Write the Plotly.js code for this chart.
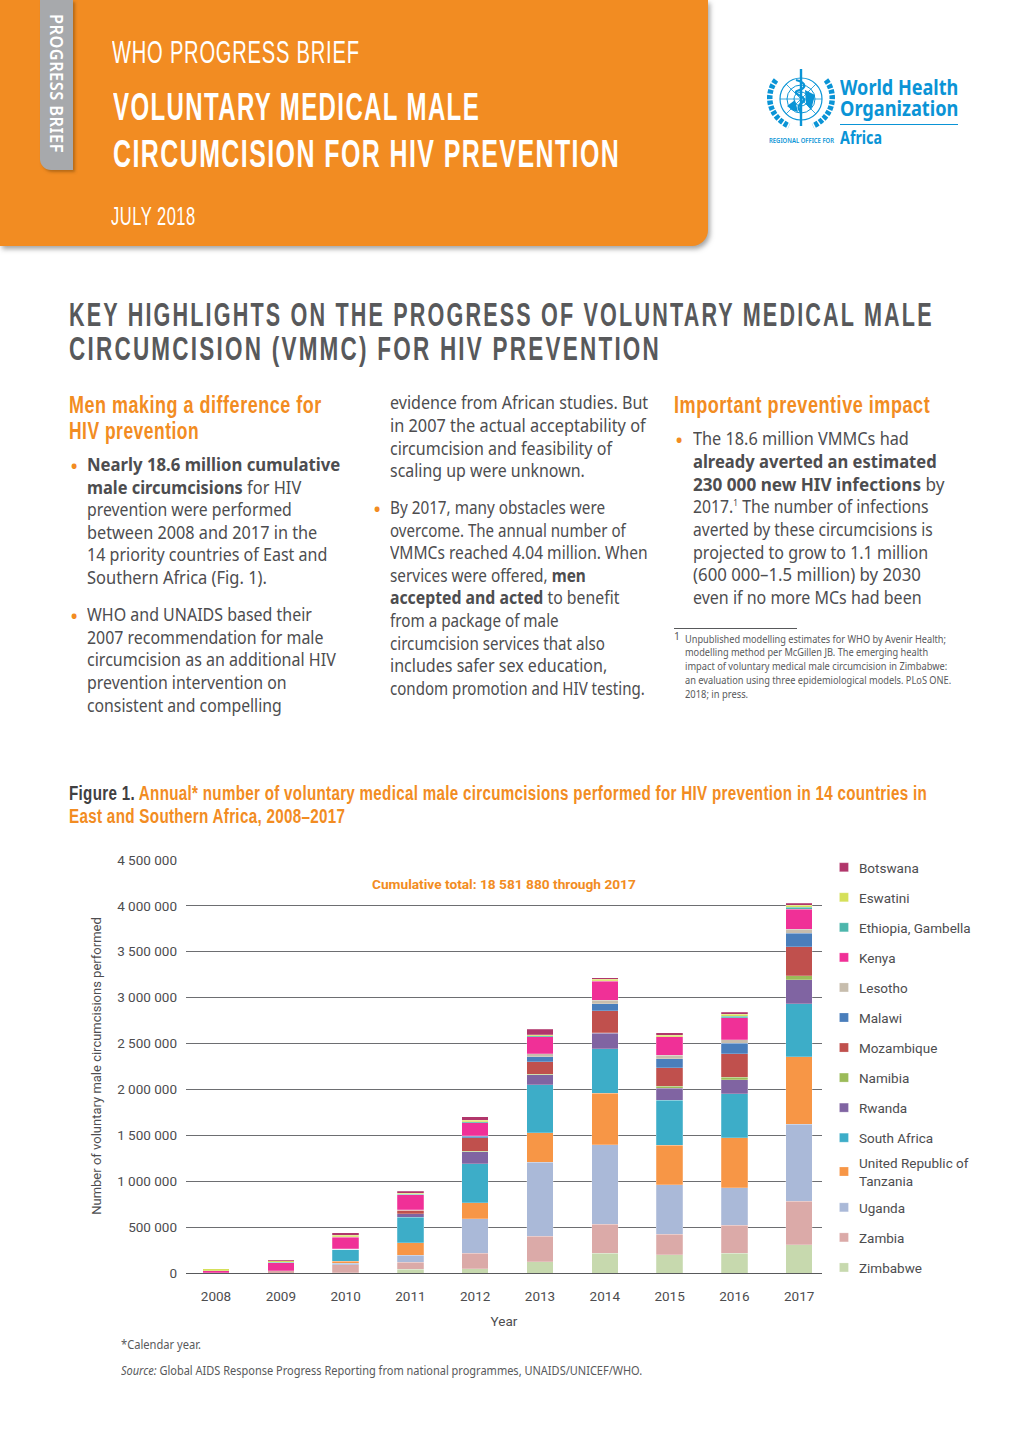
<!DOCTYPE html>
<html><head><meta charset="utf-8">
<script src="https://cdn.plot.ly/plotly-3.0.1.min.js"></script>
<style>
html,body{margin:0;padding:0;background:#fff;width:1020px;height:1442px;overflow:hidden}
.a{position:absolute;white-space:nowrap;line-height:1;transform-origin:0 50%}
.n{font-family:"Liberation Sans",sans-serif}
.b{font-family:"Noto Sans",sans-serif;font-size:17.4px;color:#4d4d4f}
.f{font-family:"Noto Sans",sans-serif;font-size:10.4px;color:#58595b}
.h{font-family:"Liberation Sans",sans-serif;font-weight:700;font-size:24px;color:#f28c22;letter-spacing:.7px}
.k{font-family:"Liberation Sans",sans-serif;font-weight:700;font-size:34px;color:#58595b;letter-spacing:3.4px}
.bu{color:#f28c22;font-size:22px;font-family:"Noto Sans",sans-serif}
#chart{position:absolute;left:0;top:840px;width:1020px;height:520px}
</style></head><body>
<div class="a" style="left:0;top:0;width:708px;height:246px;background:#f28c22;border-bottom-right-radius:16px;box-shadow:2px 3px 5px rgba(90,90,90,.55)"></div>
<div class="a" style="left:40px;top:0;width:33px;height:170px;background:#a7a9ac;border-bottom-left-radius:11px;box-shadow:2px 2px 3px rgba(120,70,10,.5)"></div>
<div class="a" style="left:44.5px;top:14px;writing-mode:vertical-rl;font:600 17px 'Noto Sans',sans-serif;color:#fff;letter-spacing:.5px;transform:scaleY(.96);transform-origin:0 0">PROGRESS BRIEF</div>
<div class="a n" data-w="248" style="left:112px;top:37px;font-size:31px;color:#fff;letter-spacing:1.2px">WHO PROGRESS BRIEF</div>
<div class="a n" data-w="367" style="left:113px;top:88px;font-size:38px;font-weight:700;color:#fff;letter-spacing:2.2px">VOLUNTARY MEDICAL MALE</div>
<div class="a n" data-w="507" style="left:113px;top:135px;font-size:38px;font-weight:700;color:#fff;letter-spacing:2.2px">CIRCUMCISION FOR HIV PREVENTION</div>
<div class="a n" data-w="85" style="left:111px;top:204px;font-size:25px;color:#fff;letter-spacing:.8px">JULY 2018</div>

<svg class="a" style="left:765px;top:66px" width="72" height="68" viewBox="0 0 72 68" fill="none" stroke="#0a94d6">
<circle cx="36" cy="33" r="21" stroke-width="1.2"/><circle cx="36" cy="33" r="14" stroke-width="1"/><circle cx="36" cy="33" r="7" stroke-width="1"/>
<path d="M15 33H57M36 12V54M21 18L51 48M51 18L21 48" stroke-width=".8"/>
<path d="M36 3V60" stroke-width="2.4"/><path d="M31 14C42 17 42 22 32 25C26 28 44 31 38 36C33 39 32 42 36 46" stroke-width="2.2"/>
<path d="M22 40L30 34L33 46L27 44Z M40 24L50 29L46 44L41 38Z" fill="#0a94d6" stroke="none"/>
<path d="M11 14C0 28 3 50 24 60M61 14C72 28 69 50 48 60" stroke-width="5.5" stroke-dasharray="4 1.5"/>
</svg>
<div class="a" data-w="118" style="left:840px;top:77px;font:700 20.5px 'Noto Sans',sans-serif;color:#0a94d6;line-height:1">World Health</div>
<div class="a" data-w="118" style="left:840px;top:98px;font:700 20.5px 'Noto Sans',sans-serif;color:#0a94d6;line-height:1">Organization</div>
<div class="a" style="left:840px;top:124px;width:118px;height:1px;background:#0a94d6"></div>
<div class="a" data-w="42" style="left:840px;top:129px;font:700 17px 'Noto Sans',sans-serif;color:#0a94d6;line-height:1">Africa</div>
<div class="a" data-w="65" style="left:769px;top:137px;font:600 7px 'Noto Sans',sans-serif;color:#0a94d6;line-height:1">REGIONAL OFFICE FOR</div>

<div class="a k" data-w="865" style="left:69px;top:297px">KEY HIGHLIGHTS ON THE PROGRESS OF VOLUNTARY MEDICAL MALE</div>
<div class="a k" data-w="592" style="left:69px;top:331px">CIRCUMCISION (VMMC) FOR HIV PREVENTION</div>

<div id="copy"></div>

<div class="a" style="left:674px;top:628px;width:123px;height:1px;background:#58595b"></div>

<div class="a n" data-w="858" style="left:69px;top:783px;font-size:20px;font-weight:700;color:#f28c22;letter-spacing:.4px"><span style="color:#414042">Figure 1.</span> Annual* number of voluntary medical male circumcisions performed for HIV prevention in 14 countries in</div>
<div class="a n" data-w="276" style="left:69px;top:806px;font-size:20px;font-weight:700;color:#f28c22;letter-spacing:.4px">East and Southern Africa, 2008–2017</div>

<div id="chart"></div>

<div class="a f" data-w="80" style="left:121px;top:1339px;font-size:12.4px">*Calendar year.</div>
<div class="a f" data-w="521" style="left:121px;top:1365px;font-size:12.4px"><i>Source:</i> Global AIDS Response Progress Reporting from national programmes, UNAIDS/UNICEF/WHO.</div>

<script>
var years = [2008,2009,2010,2011,2012,2013,2014,2015,2016,2017];
var Zimbabwe   = [0,0,5000,43000,47000,120000,217000,199000,217000,308000];
var Zambia     = [0,25000,83000,72000,170000,279000,312000,221000,301000,471000];
var Uganda     = [0,0,18000,80000,373000,808000,866000,543000,413000,841000];
var Tanzania   = [0,2000,22000,134000,174000,322000,565000,431000,540000,735000];
var SouthAfrica= [0,0,130000,279000,427000,522000,485000,489000,482000,580000];
var Rwanda     = [3000,0,3000,40000,130000,109000,167000,130000,152000,261000];
var Namibia    = [0,0,0,0,4000,5000,5000,22000,25000,40000];
var Mozambique = [0,0,0,33000,149000,135000,240000,203000,261000,319000];
var Malawi     = [0,0,2000,3000,18000,54000,76000,94000,112000,145000];
var Lesotho    = [0,0,0,5000,3000,36000,40000,40000,36000,43000];
var Kenya      = [22000,85000,127000,163000,141000,181000,207000,200000,239000,221000];
var Ethiopia   = [0,5000,6000,5000,14000,14000,3000,4000,18000,22000];
var Eswatini   = [20000,14000,18000,14000,14000,10000,15000,14000,22000,18000];
var Botswana   = [2000,14000,22000,22000,36000,61000,18000,26000,22000,22000];

var seriesNames = ["Zimbabwe","Zambia","Uganda","United Republic of<br>Tanzania","South Africa","Rwanda","Namibia","Mozambique","Malawi","Lesotho","Kenya","Ethiopia, Gambella","Eswatini","Botswana"];
var seriesValues = [Zimbabwe,Zambia,Uganda,Tanzania,SouthAfrica,Rwanda,Namibia,Mozambique,Malawi,Lesotho,Kenya,Ethiopia,Eswatini,Botswana];
var seriesColors = ["#c7d9ae","#dbaaa8","#aab9d8","#f79646","#3dadc8","#8064a2","#9bbb59","#c0504d","#4a7ebb","#c7bdad","#f03097","#4db6ac","#d5e05a","#b1366b"];
var yTicks = [0,500000,1000000,1500000,2000000,2500000,3000000,3500000,4000000,4500000];

var body = [
 ["h",69,405,"Men making a difference for",253],["h",69,431,"HIV prevention",130],
 ["u",70,465],["t",87,465,"<b>Nearly 18.6 million cumulative</b>",253],["t",87,488,"<b>male circumcisions</b> for HIV",214],["t",87,510,"prevention were performed",205],["t",87,533,"between 2008 and 2017 in the",230],["t",87,555,"14 priority countries of East and",240],["t",87,578,"Southern Africa (Fig. 1).",180],
 ["u",70,615],["t",87,615,"WHO and UNAIDS based their",225],["t",87,638,"2007 recommendation for male",236],["t",87,660,"circumcision as an additional HIV",249],["t",87,683,"prevention intervention on",200],["t",87,706,"consistent and compelling",195],
 ["t",390,403,"evidence from African studies. But",258],["t",390,426,"in 2007 the actual acceptability of",256],["t",390,449,"circumcision and feasibility of",222],["t",390,471,"scaling up were unknown.",195],
 ["u",373,508],["t",390,508,"By 2017, many obstacles were",215],["t",390,531,"overcome. The annual number of",236],["t",390,553,"VMMCs reached 4.04 million. When",258],["t",390,576,"services were offered, <b>men</b>",196],["t",390,598,"<b>accepted and acted</b> to benefit",229],["t",390,621,"from a package of male",169],["t",390,644,"circumcision services that also",215],["t",390,666,"includes safer sex education,",217],["t",390,689,"condom promotion and HIV testing.",255],
 ["h",674,405,"Important preventive impact",256],
 ["u",675,439],["t",693,439,"The 18.6 million VMMCs had",216],["t",693,462,"<b>already averted an estimated</b>",244],["t",693,485,"<b>230 000 new HIV infections</b> by",251],["t",693,507,"2017.<sup style='font-size:9px;line-height:0'>1</sup> The number of infections",236],["t",693,530,"averted by these circumcisions is",240],["t",693,553,"projected to grow to 1.1 million",235],["t",693,575,"(600 000–1.5 million) by 2030",228],["t",693,598,"even if no more MCs had been",229],
 ["f",674,636,"1"],["f",685,639,"Unpublished modelling estimates for WHO by Avenir Health;",261],["f",685,652,"modelling method per McGillen JB. The emerging health",243],["f",685,666,"impact of voluntary medical male circumcision in Zimbabwe:",262],["f",685,680,"an evaluation using three epidemiological models. PLoS ONE.",266],["f",685,694,"2018; in press.",63]
];
var html = "";
body.forEach(function(r){
  var cls = {h:"h",t:"b",f:"f",u:"bu"}[r[0]];
  html += '<div class="a '+cls+'"'+(r[4]?' data-w="'+r[4]+'"':'')+' style="left:'+r[1]+'px;top:'+r[2]+'px;margin-top:-.52em">'+(r[0]==="u"?"•":r[3])+'</div>';
});
document.getElementById("copy").innerHTML = html;
document.querySelectorAll("[data-w]").forEach(function(el){
  el.style.transform = "scaleX("+(parseFloat(el.getAttribute("data-w"))/el.offsetWidth)+")";
});

var plotFont = "Roboto,'Noto Sans',sans-serif";
var traces = seriesNames.map(function(name,i){
  return {type:"bar",name:name,x:years,y:seriesValues[i],legendgroup:"g"+i,legendrank:1000-i,
    marker:{color:seriesColors[i],line:{color:"rgba(255,255,255,.45)",width:.5}},hoverinfo:"x+y+name"};
});
Plotly.newPlot("chart",traces,{
  width:1020,height:520,barmode:"stack",bargap:.59,separators:". ",
  paper_bgcolor:"rgba(0,0,0,0)",plot_bgcolor:"rgba(0,0,0,0)",
  font:{family:plotFont,size:13.5,color:"#4d4d4f"},
  margin:{l:186,r:198,t:18.5,b:86.5,pad:0},
  xaxis:{type:"linear",range:[2007.537,2017.352],tickmode:"array",tickvals:years,ticks:"",showgrid:false,zeroline:false,showline:true,linecolor:"#58595b",linewidth:1,
     ticklabelstandoff:11,title:{text:"Year",font:{size:13.5,color:"#4d4d4f"},standoff:13},automargin:false},
  yaxis:{range:[0,4510000],tickmode:"array",tickvals:yTicks,tickformat:",d",ticks:"",showgrid:true,gridcolor:"#6d6e71",gridwidth:1,zeroline:false,
     ticklabelstandoff:8,title:{text:"Number of voluntary male circumcisions performed",font:{size:13,color:"#4d4d4f"},standoff:12},automargin:false},
  legend:{xref:"container",yref:"container",x:.8078,xanchor:"left",y:.977,yanchor:"top",traceorder:"grouped",tracegroupgap:9.5,maxheight:1,
     font:{size:13.5,color:"#4d4d4f"},itemclick:false,itemdoubleclick:false,bgcolor:"rgba(0,0,0,0)"},
  annotations:[{xref:"paper",yref:"paper",x:.5,y:.94,xanchor:"center",yanchor:"middle",showarrow:false,
     text:"<b>Cumulative total: 18 581 880 through 2017</b>",font:{size:13.7,color:"#f28c22"}}]
},{displayModeBar:false}).then(function(){
  document.querySelectorAll("#chart .legendtext").forEach(function(t){
    t.setAttribute("x",35);
    t.querySelectorAll("tspan[x]").forEach(function(s){s.setAttribute("x",35);});
  });
  document.querySelectorAll("#chart .legendpoints path").forEach(function(p){
    p.setAttribute("d","M4.5,4.5H-4.5V-4.5H4.5Z");
  });
  document.querySelectorAll("#chart .legend .groups").forEach(function(g,k){
    var dy = k===10 ? -5 : (k>10 ? -8 : 0);
    if(dy) g.setAttribute("transform",(g.getAttribute("transform")||"")+" translate(0,"+dy+")");
  });
});
</script>
</body></html>
